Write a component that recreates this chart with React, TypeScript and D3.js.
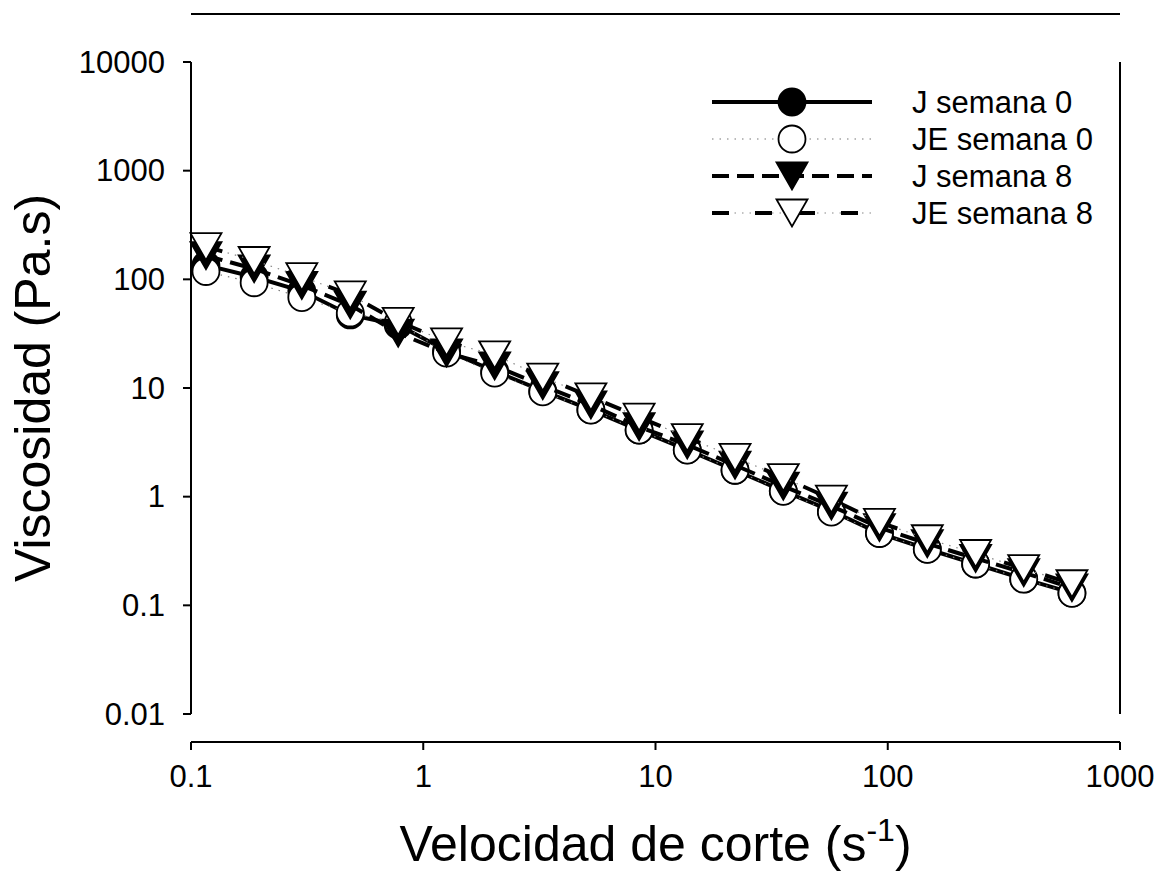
import React from "react";
import * as d3 from "d3";

const shearRate = [0.116, 0.187, 0.30, 0.485, 0.78, 1.26, 2.03, 3.27, 5.27, 8.5, 13.7, 22.0, 35.5, 57.2, 92.1, 148, 239, 385, 621];
const jSemana0 = [135, 105, 78, 47, 38, 22, 14.3, 9.4, 6.3, 4.1, 2.7, 1.75, 1.13, 0.74, 0.46, 0.33, 0.24, 0.175, 0.13];
const jeSemana0 = [118, 93, 68, 49, 40, 21, 13.7, 9.2, 6.27, 4.1, 2.68, 1.75, 1.12, 0.72, 0.458, 0.327, 0.24, 0.174, 0.129];
const jSemana8 = [165, 125, 88, 58, 32, 21, 16, 10.5, 7.0, 4.4, 3.0, 1.95, 1.25, 0.82, 0.52, 0.37, 0.27, 0.2, 0.145];
const jeSemana8 = [200, 149, 106, 72, 41, 26.6, 20.2, 12.6, 8.3, 5.4, 3.5, 2.3, 1.5, 0.95, 0.58, 0.41, 0.30, 0.218, 0.158];

const xTicks = [0.1, 1, 10, 100, 1000];
const xTickLabels = ["0.1", "1", "10", "100", "1000"];
const yTicks = [0.01, 0.1, 1, 10, 100, 1000, 10000];
const yTickLabels = ["0.01", "0.1", "1", "10", "100", "1000", "10000"];
const seriesNames = ["J semana 0", "JE semana 0", "J semana 8", "JE semana 8"];

const W = 1161, H = 891;
const X0 = 191, X1 = 1120, Y0 = 714, Y1 = 62, XAXIS_Y = 742, TOP_Y = 14;
const FONT = "Liberation Sans, Arial, sans-serif";

type Kind = "fcircle" | "ocircle" | "ftri" | "otri";

function Marker({ kind, x, y }: { kind: Kind; x: number; y: number }) {
  if (kind === "fcircle" || kind === "ocircle") {
    return <circle cx={x} cy={y} r={13.5} fill={kind === "fcircle" ? "#000" : "#fff"} stroke="#000" strokeWidth={1.8} />;
  }
  const w = 15.5, h = 27;
  const pts = `${x - w},${y - h / 2} ${x + w},${y - h / 2} ${x},${y + h / 2}`;
  return <polygon points={pts} fill={kind === "ftri" ? "#000" : "#fff"} stroke="#000" strokeWidth={1.8} strokeLinejoin="miter" />;
}

function SeriesLine({ d, idx }: { d: string; idx: number }) {
  if (idx === 0) return <path d={d} fill="none" stroke="#000" strokeWidth={4} />;
  if (idx === 1) return <path d={d} fill="none" stroke="#777" strokeWidth={1.2} strokeDasharray="1.5 6" />;
  if (idx === 2) return <path d={d} fill="none" stroke="#000" strokeWidth={4} strokeDasharray="17 8" />;
  return (
    <g>
      <path d={d} fill="none" stroke="#888" strokeWidth={1.2} strokeDasharray="1.5 6" />
      <path d={d} fill="none" stroke="#000" strokeWidth={4} strokeDasharray="17 26" />
    </g>
  );
}

export default function App() {
  const x = d3.scaleLog().domain([0.1, 1000]).range([X0, X1]);
  const y = d3.scaleLog().domain([0.01, 10000]).range([Y0, Y1]);
  const all = [jSemana0, jeSemana0, jSemana8, jeSemana8];
  const kinds: Kind[] = ["fcircle", "ocircle", "ftri", "otri"];
  const line = d3.line<[number, number]>().x((p) => x(p[0])).y((p) => y(p[1]));

  const legX1 = 712, legX2 = 872, legMid = 792, legText = 912;
  const legY = [102, 139, 176, 213];

  return (
    <svg width={W} height={H} style={{ position: "absolute", left: 0, top: 0, background: "#fff" }} fontFamily={FONT}>
      <rect x={0} y={0} width={W} height={H} fill="#fff" />
      <line x1={X0} x2={X1} y1={TOP_Y} y2={TOP_Y} stroke="#000" strokeWidth={2} />
      <line x1={X0} x2={X0} y1={Y1} y2={Y0} stroke="#000" strokeWidth={2} />
      <line x1={X1} x2={X1} y1={Y1} y2={Y0} stroke="#000" strokeWidth={2} />
      <line x1={X0} x2={X1} y1={XAXIS_Y} y2={XAXIS_Y} stroke="#000" strokeWidth={2} />
      {yTicks.map((t, i) => (
        <g key={"y" + i}>
          <line x1={X0 - 8} x2={X0} y1={y(t)} y2={y(t)} stroke="#000" strokeWidth={2} />
          <text x={X0 - 26} y={y(t)} textAnchor="end" dominantBaseline="central" fontSize={31}>{yTickLabels[i]}</text>
        </g>
      ))}
      {xTicks.map((t, i) => (
        <g key={"x" + i}>
          <line x1={x(t)} x2={x(t)} y1={XAXIS_Y} y2={XAXIS_Y + 8} stroke="#000" strokeWidth={2} />
          <text x={x(t)} y={XAXIS_Y + 45} textAnchor="middle" fontSize={31}>{xTickLabels[i]}</text>
        </g>
      ))}
      <text transform={`translate(50,${(Y0 + Y1) / 2}) rotate(-90)`} textAnchor="middle" fontSize={50}>Viscosidad (Pa.s)</text>
      <text x={(X0 + X1) / 2} y={861} textAnchor="middle" fontSize={50}>
        Velocidad de corte (s<tspan dy={-20} fontSize={32}>-1</tspan><tspan dy={20}>)</tspan>
      </text>
      {all.map((vals, si) => {
        const pts: [number, number][] = shearRate.map((s, i) => [s, vals[i]]);
        return (
          <g key={"s" + si}>
            <SeriesLine d={line(pts) || ""} idx={si} />
            {pts.map((p, i) => <Marker key={i} kind={kinds[si]} x={x(p[0])} y={y(p[1])} />)}
          </g>
        );
      })}
      {seriesNames.map((n, i) => (
        <g key={"l" + i}>
          <SeriesLine d={`M${legX1},${legY[i]}L${legX2},${legY[i]}`} idx={i} />
          <Marker kind={kinds[i]} x={legMid} y={legY[i]} />
          <text x={legText} y={legY[i]} dominantBaseline="central" fontSize={31}>{n}</text>
        </g>
      ))}
    </svg>
  );
}
